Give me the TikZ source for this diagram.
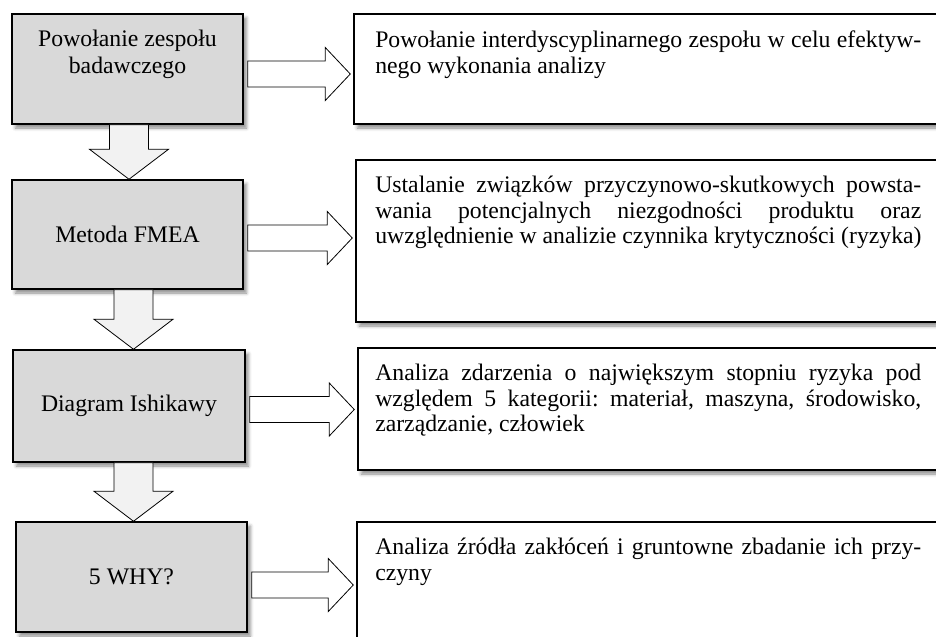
\documentclass[tikz,border=0pt]{standalone}
\usepackage{fontspec}
\setmainfont{Liberation Serif}
\usetikzlibrary{calc,fit,shadows.blur}
\definecolor{boxgray}{HTML}{D9D9D9}
\definecolor{arrgray}{HTML}{F2F2F2}
\frenchspacing
\newlength\rtw \setlength\rtw{409.5pt}
\newcommand\jl[1]{\hbox to\rtw{#1}}
\newcommand\rtext[1]{\vbox{#1}}
\newcommand\darr[4]{%
  \coordinate (#4c) at (#3,0);
  \coordinate (#4t) at (#4c |- #2.north);
  \coordinate (#4l) at ($(#4t)+(-19.5,0)$);
  \coordinate (#4r) at ($(#4t)+(19.5,0)$);
  \draw[downarr] (#4t) -- ($(#4t)+(-39.5,-30)$) -- ($(#4l)+(0,-30)$) -- (#4l |- #1.south)
    -- (#4r |- #1.south) -- ($(#4r)+(0,-30)$) -- ($(#4t)+(39.5,-30)$) -- cycle;}
\newcommand\rarr[4]{%
  \coordinate (#4c) at (0,#3);
  \coordinate (#4s) at ($(#1.east |- #4c)+(4,0)$);
  \coordinate (#4t) at ($(#2.west |- #4c)+(-3,0)$);
  \draw[rightarr] ($(#4s)+(0,-13)$) -- ($(#4t)+(-25,-13)$) -- ($(#4t)+(-25,-26.5)$) -- (#4t)
    -- ($(#4t)+(-25,26.5)$) -- ($(#4t)+(-25,13)$) -- ($(#4s)+(0,13)$) -- cycle;}
\begin{document}
\begin{tikzpicture}[x=0.75pt,y=-0.75pt,
  shd/.style={blur shadow={shadow xshift=2.5pt, shadow yshift=-3pt, shadow blur radius=2.5pt, shadow opacity=45}},
  leftbox/.style={draw=black, line width=1.1pt, fill=boxgray, inner sep=0pt, shd},
  rightbox/.style={draw=black, line width=1.1pt, fill=white, inner sep=0pt, shd},
  downarr/.style={draw=black, line width=0.6pt, fill=arrgray, line join=miter},
  rightarr/.style={draw=black, line width=0.6pt, fill=white, line join=miter},
  lefttext/.style={inner sep=0pt, align=center, font=\fontsize{17.8}{20}\selectfont},
  righttext/.style={inner sep=0pt, anchor=north west, font=\fontsize{17.8}{19.1}\selectfont}]
\useasboundingbox (0,0) rectangle (936,636);
\clip (0,0) rectangle (936,636);
% left boxes
\node[leftbox, fit={(12,14)(243,124)}] (b1) {};
\node[leftbox, fit={(12,180)(243,289)}] (b2) {};
\node[leftbox, fit={(13,350)(245,462)}] (b3) {};
\node[leftbox, fit={(16,522)(247,632)}] (b4) {};
% right boxes
\node[rightbox, fit={(354,14)(960,124)}] (r1) {};
\node[rightbox, fit={(356,160)(960,322)}] (r2) {};
\node[rightbox, fit={(358,348)(960,470)}] (r3) {};
\node[rightbox, fit={(357,522)(960,680)}] (r4) {};
% left texts
\node[lefttext] (l1) at (127.5,54) {Powołanie zespołu\\badawczego};
\node[lefttext] (l2) at (b2.center) {Metoda FMEA};
\node[lefttext] (l3) at (b3.center) {Diagram Ishikawy};
\node[lefttext] (l4) at (b4.center) {5 WHY?};
% right texts
\node[righttext] (t1) at (375,31) {\rtext{\jl{Powołanie interdyscyplinarnego zespołu w celu efektyw-}\hbox{nego wykonania analizy}}};
\node[righttext] (t2) at (375,176) {\rtext{\jl{Ustalanie związków przyczynowo-skutkowych powsta-}\jl{wania potencjalnych niezgodności produktu oraz}\hbox{uwzględnienie w analizie czynnika krytyczności (ryzyka)}}};
\node[righttext] (t3) at (375,364) {\rtext{\jl{Analiza zdarzenia o największym stopniu ryzyka pod}\jl{względem 5 kategorii: materiał, maszyna, środowisko,}\hbox{zarządzanie, człowiek}}};
\node[righttext] (t4) at (375,538) {\rtext{\jl{Analiza źródła zakłóceń i gruntowne zbadanie ich przy-}\hbox{czyny}}};
% down arrows
\darr{b1}{b2}{129}{da}
\darr{b2}{b3}{133.5}{db}
\darr{b3}{b4}{133.5}{dc}
% right arrows
\rarr{b1}{r1}{74}{ra}
\rarr{b2}{r2}{238}{rb}
\rarr{b3}{r3}{409.5}{rc}
\rarr{b4}{r4}{585}{rd}
\end{tikzpicture}
\end{document}
